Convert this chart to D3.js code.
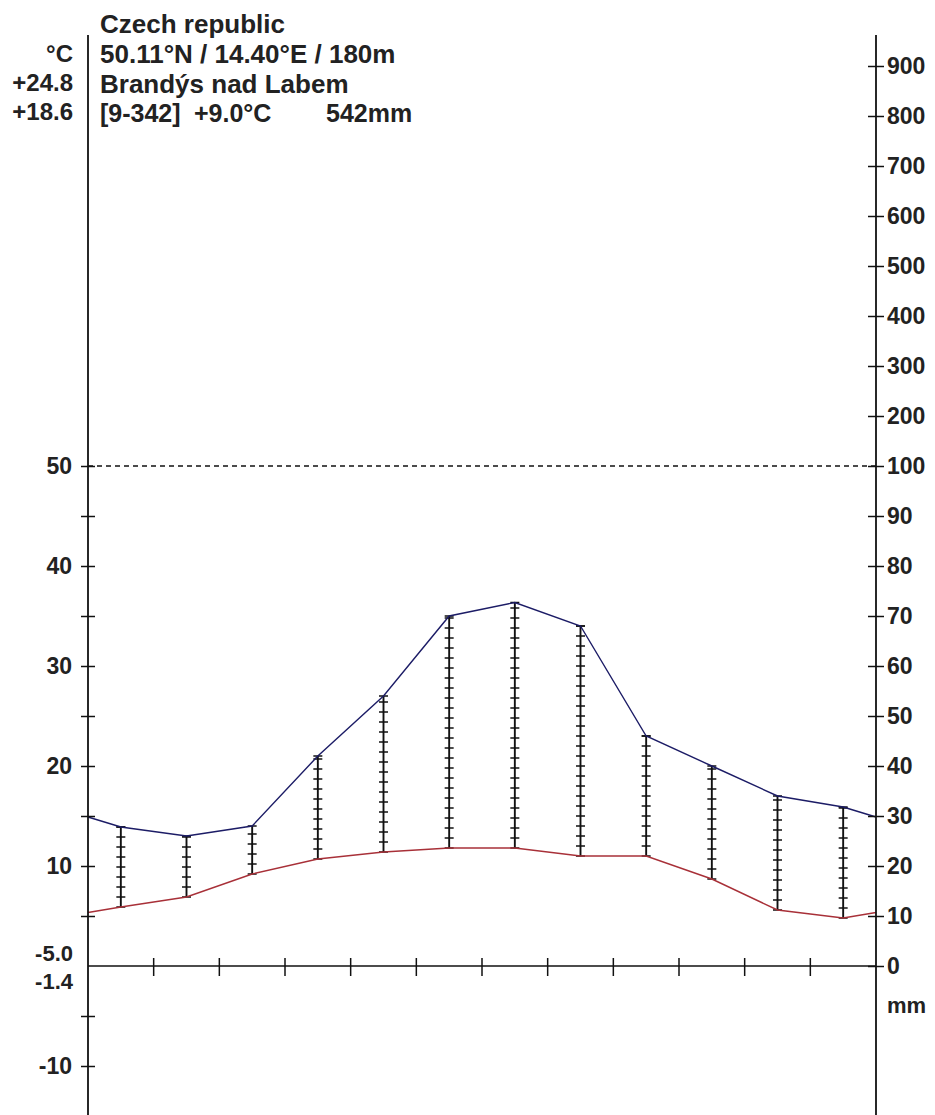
<!DOCTYPE html>
<html>
<head>
<meta charset="utf-8">
<script src="https://cdn.jsdelivr.net/npm/d3@7"></script>
<style>
  body { margin: 0; background: #fff; }
  svg text { font-family: "Liberation Sans", Arial, sans-serif; font-weight: bold; fill: #222; }
</style>
</head>
<body>
<div id="graphic"></div>
<script>
// monthly values
const months = ['Jan','Feb','Mar','Apr','May','Jun','Jul','Aug','Sep','Oct','Nov','Dec'];
const temperature = [5.9, 6.9, 9.2, 10.7, 11.4, 11.8, 11.8, 11.0, 11.0, 8.7, 5.6, 4.8];
const precipitation = [27.8, 26, 28, 42, 54, 70, 72.7, 68, 46, 40, 34, 31.8];

const headerLines = ['Czech republic', '50.11°N / 14.40°E / 180m', 'Brandýs nad Labem'];
const summaryParts = ['[9-342]', '+9.0°C', '542mm'];
const sideLabels = ['°C', '+24.8', '+18.6'];
const minLabels = ['-5.0', '-1.4'];
const tempTicks = [-10, -5, 5, 10, 15, 20, 25, 30, 35, 40, 45, 50];
const tempLabelled = [-10, 10, 20, 30, 40, 50];
const precTicks = [0, 10, 20, 30, 40, 50, 60, 70, 80, 90, 100, 200, 300, 400, 500, 600, 700, 800, 900];

const chartW = 935, chartH = 1115;
const axisL = 88, axisR = 876, axisTop = 35;

const svg = d3.select('#graphic').append('svg')
	.attr('width', chartW)
	.attr('height', chartH);

// scales
const x = d3.scaleLinear().domain([0, 12]).range([axisL, axisR]);
const yT = d3.scaleLinear().domain([0, 50]).range([966, 466]);
// precipitation: 10°C = 20mm up to 100mm, compressed above
const yP = d3.scaleLinear().domain([0, 100, 1000]).range([966, 466, 16]);

// curves padded to the frame with the mean of Dec and Jan
const edgeT = (temperature[0] + temperature[11]) / 2;
const edgeP = (precipitation[0] + precipitation[11]) / 2;
const tPts = [[0, edgeT]].concat(temperature.map((d, i) => [i + 0.5, d]), [[12, edgeT]]);
const pPts = [[0, edgeP]].concat(precipitation.map((d, i) => [i + 0.5, d]), [[12, edgeP]]);

// dashed 100mm line
svg.append('line')
	.attr('x1', x(0)).attr('x2', x(12))
	.attr('y1', yP(100)).attr('y2', yP(100))
	.attr('stroke', '#111').attr('stroke-width', 1.3)
	.attr('stroke-dasharray', '5,4');

// humid hatching: ladder lines from temperature to precipitation
const hatch = svg.append('g').attr('stroke', '#111');
months.forEach((m, i) => {
	const cx = x(i + 0.5);
	const lo = temperature[i] * 2, hi = precipitation[i];
	if (hi <= lo) return;
	hatch.append('line')
		.attr('x1', cx).attr('x2', cx)
		.attr('y1', yP(lo)).attr('y2', yP(hi))
		.attr('stroke-width', 1.9);
	const steps = d3.range(lo, hi + 0.01, 2).concat([hi]);
	steps.forEach(v => {
		hatch.append('line')
			.attr('x1', cx - 4.5).attr('x2', cx + 4.5)
			.attr('y1', yP(v)).attr('y2', yP(v))
			.attr('stroke-width', 1.5);
	});
});

// temperature and precipitation curves
svg.append('path')
	.datum(tPts)
	.attr('fill', 'none')
	.attr('stroke', '#a83038')
	.attr('stroke-width', 1.4)
	.attr('d', d3.line().x(d => x(d[0])).y(d => yT(d[1])));

svg.append('path')
	.datum(pPts)
	.attr('fill', 'none')
	.attr('stroke', '#1c1c66')
	.attr('stroke-width', 1.4)
	.attr('d', d3.line().x(d => x(d[0])).y(d => yP(d[1])));

// x axis with month boundaries
svg.append('line')
	.attr('x1', x(0)).attr('x2', x(12))
	.attr('y1', yT(0)).attr('y2', yT(0))
	.attr('stroke', '#111').attr('stroke-width', 1.6);
svg.append('g')
	.selectAll('line')
	.data(d3.range(1, 12))
	.join('line')
	.attr('x1', d => x(d)).attr('x2', d => x(d))
	.attr('y1', yT(0) - 8).attr('y2', yT(0) + 10)
	.attr('stroke', '#111').attr('stroke-width', 1.5);

// left axis (temperature)
const leftAxis = svg.append('g')
	.attr('transform', 'translate(' + axisL + ',0)')
	.call(
		d3.axisLeft(yT)
			.tickValues(tempTicks)
			.tickSize(7)
			.tickPadding(9)
			.tickFormat(d => tempLabelled.includes(d) ? d : '')
	);
leftAxis.select('.domain').remove();
leftAxis.selectAll('.tick line').attr('x1', -7).attr('x2', 7).attr('stroke', '#111').attr('stroke-width', 1.5);
leftAxis.selectAll('.tick text').style('font-size', '23px').attr('fill', '#222');
svg.append('line')
	.attr('x1', axisL).attr('x2', axisL)
	.attr('y1', axisTop).attr('y2', chartH)
	.attr('stroke', '#111').attr('stroke-width', 1.8);

// right axis (precipitation)
const rightAxis = svg.append('g')
	.attr('transform', 'translate(' + axisR + ',0)')
	.call(
		d3.axisRight(yP)
			.tickValues(precTicks)
			.tickSize(8)
			.tickPadding(3)
	);
rightAxis.select('.domain').remove();
rightAxis.selectAll('.tick line').attr('x1', -8).attr('x2', 8).attr('stroke', '#111').attr('stroke-width', 1.5);
rightAxis.selectAll('.tick text').style('font-size', '23px').attr('fill', '#222');
svg.append('line')
	.attr('x1', axisR).attr('x2', axisR)
	.attr('y1', axisTop).attr('y2', chartH)
	.attr('stroke', '#111').attr('stroke-width', 1.8);

svg.append('text')
	.attr('x', axisR + 11).attr('y', 1013)
	.style('font-size', '22px')
	.text('mm');

// header
svg.append('g')
	.selectAll('text')
	.data(headerLines)
	.join('text')
	.attr('x', 100)
	.attr('y', (d, i) => 33 + i * 30)
	.style('font-size', '26px')
	.text(d => d);

svg.append('g')
	.selectAll('text')
	.data(summaryParts)
	.join('text')
	.attr('x', (d, i) => [100, 194, 326][i])
	.attr('y', 122)
	.style('font-size', '25px')
	.text(d => d);

svg.append('g')
	.selectAll('text')
	.data(sideLabels)
	.join('text')
	.attr('x', 73)
	.attr('y', (d, i) => 62 + i * 29)
	.attr('text-anchor', 'end')
	.style('font-size', '24px')
	.text(d => d);

// minimum temperatures beside the zero line
svg.append('g')
	.selectAll('text')
	.data(minLabels)
	.join('text')
	.attr('x', 73)
	.attr('y', (d, i) => 961 + i * 28)
	.attr('text-anchor', 'end')
	.style('font-size', '22px')
	.text(d => d);
</script>
</body>
</html>
